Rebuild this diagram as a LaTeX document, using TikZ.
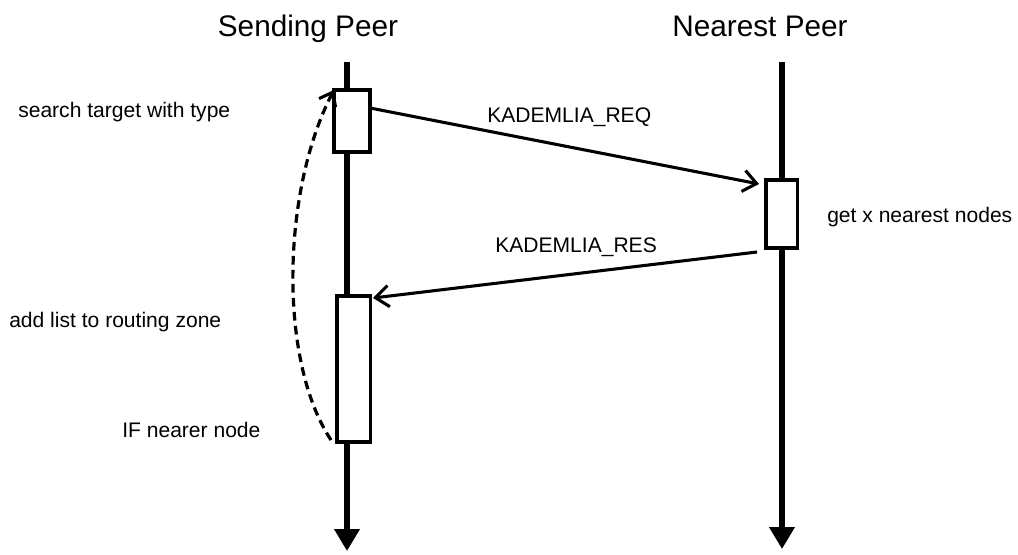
\documentclass[tikz,border=0pt]{standalone}
\usepackage{fontspec}
\setmainfont{Liberation Sans}
\usetikzlibrary{arrows.meta}
\begin{document}
\begin{tikzpicture}[x=0.75pt,y=-0.75pt,
  lifeline/.style={line width=3.8pt,-{Triangle[length=16.5pt,width=18.5pt]}},
  actbox/.style={draw,fill=white,line width=2.3pt,inner sep=0pt,minimum width=#1},
  msg/.style={line width=2.3pt,-{Straight Barb[length=10pt,width=16pt,line width=2.3pt]}},
  loopline/.style={line width=2.4pt,dash pattern=on 6.5pt off 4pt,-{Straight Barb[length=9pt,width=14pt,line width=2.3pt]}},
  title/.style={font=\fontsize{22.3}{26}\selectfont,inner sep=0pt,anchor=base},
  lbl/.style={font=\fontsize{15.8}{18}\selectfont,inner sep=0pt,anchor=base west}]
\useasboundingbox (0,0) rectangle (1018,554);
% titles
\node[title] (t1) at (308,36) {Sending Peer};
\node[title] (t2) at (760,36) {Nearest Peer};
% lifelines
\coordinate (s0) at (347,62);
\coordinate (s1) at (347,551);
\coordinate (n0) at (782,62);
\coordinate (n1) at (782,549);
\draw[lifeline] (s0) -- (s1);
\draw[lifeline] (n0) -- (n1);
% activation boxes
\node[actbox=27pt,minimum height=46.5pt] (b1) at (352,121) {};
\node[actbox=23.3pt,minimum height=51pt] (b2) at (781.5,214) {};
\node[actbox=24.8pt,minimum height=109.5pt] (b3) at (353.5,369) {};
% messages
\coordinate (reqS) at (370,108);
\coordinate (reqE) at (759,184);
\coordinate (resS) at (757,252);
\coordinate (resE) at (373,298);
\draw[msg] (reqS) -- (reqE);
\draw[msg] (resS) -- (resE);
\node[lbl] (lreq) at (487,122) {KADEMLIA\_REQ};
\node[lbl] (lres) at (495,252) {KADEMLIA\_RES};
% loop back
\coordinate (lpS) at (331,440);
\coordinate (lpE) at (334,90);
\draw[loopline] (lpS) .. controls (278,360) and (282,190) .. (lpE);
% side labels
\node[lbl] (l1) at (18,117) {search target with type};
\node[lbl] (l2) at (827,222) {get x nearest nodes};
\node[lbl] (l3) at (9,327) {add list to routing zone};
\node[lbl] (l4) at (122,437) {IF nearer node};
\end{tikzpicture}
\end{document}
